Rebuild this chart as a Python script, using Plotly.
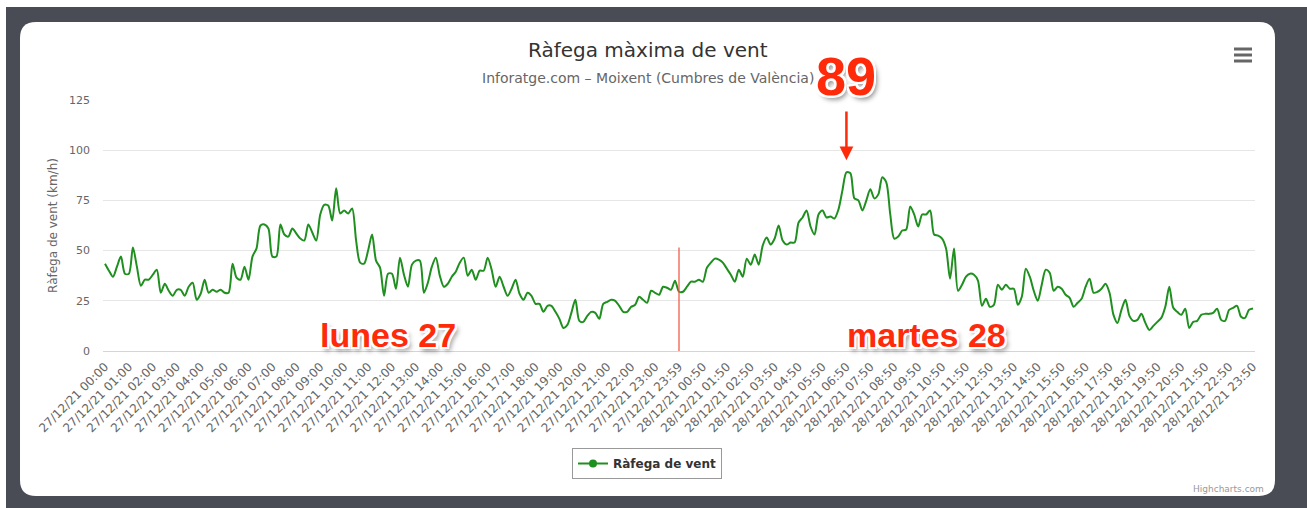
import plotly.graph_objects as go

# ---------------- data ----------------
day27_times = [f"27/12/21 {h:02d}:{m:02d}" for h in range(24) for m in range(0, 60, 10)] + ["27/12/21 23:59"]
day28_times = [f"28/12/21 {h:02d}:{m:02d}" for h in range(24) for m in range(0, 60, 10)]
categories = day27_times + day28_times

gusts_27 = [
    43.5, 40, 37, 42, 47, 38.5, 38.5, 51.5, 42, 32.5,
    35.5, 35.5, 38, 40.5, 29, 33.5, 30, 27.5, 30.5, 30.5,
    27.5, 32, 34, 25.5, 28.5, 35.5, 29, 30.5, 29.5, 30.5,
    29, 29, 43.5, 36.5, 35.5, 42, 35.5, 47, 51, 62.5,
    63, 61, 47, 47, 63, 58, 57, 61, 58.5, 56,
    55, 63, 59, 55, 68, 72.8, 72.5, 65, 81, 68.5,
    70, 68.5, 71, 55, 44, 43.5, 50, 58, 45, 41.5,
    27.5, 38.5, 38.5, 31, 46.5, 38, 32, 43, 45, 45,
    29, 34, 42, 46.5, 37.5, 32, 33.5, 37, 39.5, 44,
    46.5, 37.5, 40.5, 35.5, 40, 40, 46.5, 40.5, 32, 37,
    32, 27.5, 31, 35.5, 28.5, 25.5, 29, 27.5, 23.5, 23.5,
    19.5, 22.5, 22.5, 19.5, 16, 11.5, 13, 19, 25.5, 15,
    14.5, 17.5, 19.5, 19, 16, 23.5, 24.5, 25.5, 25, 22.5,
    19.5, 19.5, 22, 23, 27, 25.5, 24, 30, 29, 28,
    32, 31.5, 30.5, 35, 29.5,
]
gusts_28 = [
    29.5, 32, 34.5, 34.5, 35.5, 34.5, 41.5, 44, 46, 45.5,
    44, 41, 38, 34.5, 40.5, 37, 46, 43, 48, 43,
    52.5, 56.5, 53, 56, 62.5, 55, 53, 54, 54, 64,
    66.5, 70, 62, 58, 68, 70, 66.5, 67, 66, 70.5,
    80, 89, 88.5, 76, 75, 70, 75, 80.5, 76, 78,
    86.5, 84, 68, 56, 57, 60, 60.5, 72, 68, 62,
    68, 68, 70, 58, 57.5, 56, 51, 36, 51, 30,
    33, 37, 38.5, 38, 35, 22.5, 26, 22, 23, 33,
    30.5, 33, 31, 31, 23, 27, 41, 37, 30, 25,
    33, 40.5, 39, 30, 32, 31, 28, 26.5, 22, 24,
    26, 32, 36, 29, 29.5, 31, 33.5, 29, 18, 14,
    20.5, 25.5, 17.5, 15, 15.5, 18.5, 14, 10.5, 12.5, 14.5,
    16.5, 22, 32, 21.5, 19.5, 18, 21, 11.5, 14.5, 15,
    18, 18.5, 18.5, 19, 21, 15.5, 15, 20.5, 21.5, 22.5,
    17, 16.5, 20.5, 21.2,
]
gusts = gusts_27 + gusts_28

tick_labels = categories[::6]
y_ticks = [0, 25, 50, 75, 100, 125]

divider_label = "27/12/21 23:59"
peak_label = "28/12/21 06:50"
day_labels = ["lunes 27", "martes 28"]
day_label_pos = ["27/12/21 11:50", "28/12/21 10:10"]
peak_text = "89"

title_text = "Ràfega màxima de vent"
subtitle_text = "Inforatge.com – Moixent (Cumbres de València)"
y_title = "Ràfega de vent (km/h)"
series_name = "Ràfega de vent"

# ---------------- layout helpers ----------------
W, H = 1307, 508
ML, MR, MT, MB = 103, 52, 100, 157
PW, PH = W - ML - MR, H - MT - MB


def px(xp):
    return (xp - ML) / PW


def py(yp):
    return (H - MB - yp) / PH


def rounded_rect(x0, y0, x1, y1, r):
    rx, ry = r / PW, r / PH
    X0, X1 = px(x0), px(x1)
    Y0, Y1 = py(y0), py(y1)  # Y0 top, Y1 bottom
    return (f"M {X0+rx},{Y0} L {X1-rx},{Y0} Q {X1},{Y0} {X1},{Y0-ry} "
            f"L {X1},{Y1+ry} Q {X1},{Y1} {X1-rx},{Y1} L {X0+rx},{Y1} "
            f"Q {X0},{Y1} {X0},{Y1+ry} L {X0},{Y0-ry} Q {X0},{Y0} {X0+rx},{Y0} Z")


GREEN = "#1f8f1f"
RED = "#fe2a0a"
FONT = "DejaVu Sans"
SHADOW = ("2px 2px 0 #fff, -2px -2px 0 #fff, 2px -2px 0 #fff, -2px 2px 0 #fff, "
          "0 2px 0 #fff, 2px 0 0 #fff, -2px 0 0 #fff, 0 -2px 0 #fff, "
          "3px 4px 5px rgba(0,0,0,0.45)")

fig = go.Figure()
fig.add_trace(go.Scatter(
    x=categories, y=gusts, mode="lines", name=series_name,
    line=dict(color=GREEN, width=2, shape="spline", smoothing=0.8),
    showlegend=False, hoverinfo="x+y",
))
fig.add_trace(go.Scatter(
    x=[None], y=[None], mode="lines+markers", name=series_name,
    line=dict(color=GREEN, width=2), marker=dict(color=GREEN, size=8),
    showlegend=True,
))

shapes = [
    dict(type="rect", xref="paper", yref="paper", x0=px(6), x1=px(W + 5), y0=py(7), y1=py(H + 5),
         fillcolor="#494c55", line=dict(width=0), layer="below"),
    dict(type="path", xref="paper", yref="paper", path=rounded_rect(20, 22, 1275, 496, 16),
         fillcolor="#ffffff", line=dict(width=0), layer="below"),
    dict(type="line", xref="x", yref="y", x0=divider_label, x1=divider_label, y0=0, y1=51.5,
         line=dict(color="rgba(240,90,70,0.85)", width=1.5)),
]
for yl in (49, 55, 61):
    shapes.append(dict(type="line", xref="paper", yref="paper", x0=px(1234), x1=px(1252),
                       y0=py(yl), y1=py(yl), line=dict(color="#666666", width=3)))

annotations = [
    dict(text=title_text, xref="paper", yref="paper", x=px(648), y=py(50), showarrow=False,
         font=dict(family=FONT, size=20, color="#333333"), xanchor="center", yanchor="middle"),
    dict(text=subtitle_text, xref="paper", yref="paper", x=px(648), y=py(78), showarrow=False,
         font=dict(family=FONT, size=14, color="#666666"), xanchor="center", yanchor="middle"),
    dict(text="Highcharts.com", xref="paper", yref="paper", x=px(1266), y=py(489), showarrow=False,
         font=dict(family=FONT, size=9, color="#999999"), xanchor="right", yanchor="middle"),
]
for lab, pos in zip(day_labels, day_label_pos):
    annotations.append(dict(text=lab, x=pos, y=8, xref="x", yref="y", showarrow=False,
                            xanchor="center", yanchor="middle",
                            font=dict(family="Liberation Sans", size=34, color=RED,
                                      weight="bold", shadow=SHADOW)))
annotations.append(dict(text=peak_text, x=peak_label, y=py(76), xref="x", yref="paper", showarrow=False,
                        xanchor="center", yanchor="middle",
                        font=dict(family="Liberation Sans", size=54, color=RED,
                                  weight="bold", shadow=SHADOW)))
annotations.append(dict(text="", x=peak_label, y=95, xref="x", yref="y",
                        ax=peak_label, ay=120, axref="x", ayref="y",
                        showarrow=True, arrowhead=2, arrowsize=1.1, arrowwidth=2.5, arrowcolor=RED))

fig.update_layout(
    width=W, height=H,
    margin=dict(l=ML, r=MR, t=MT, b=MB, autoexpand=False),
    paper_bgcolor="#ffffff", plot_bgcolor="#ffffff",
    font=dict(family=FONT, color="#666666"),
    shapes=shapes, annotations=annotations,
    legend=dict(orientation="h", x=px(647), xanchor="center", y=py(448), yanchor="top",
                bordercolor="#999999", borderwidth=1, bgcolor="#ffffff",
                font=dict(family=FONT, size=12, color="#333333", weight="bold")),
    xaxis=dict(type="category", categoryorder="array", categoryarray=categories,
               range=[-0.5, len(categories) - 0.5],
               tickmode="array", tickvals=tick_labels, ticktext=tick_labels,
               tickangle=-45, tickfont=dict(family=FONT, size=12, color="#666666"),
               showgrid=False, showline=True, linecolor="#ccd6eb", linewidth=1,
               ticks="", ticklabelstandoff=3, automargin=False, fixedrange=True),
    yaxis=dict(range=[0, 125], tickvals=y_ticks, gridcolor="#e6e6e6", gridwidth=1,
               zeroline=False, showline=False, ticks="",
               tickfont=dict(family=FONT, size=11, color="#666666"),
               ticklabelstandoff=12,
               title=dict(text=y_title, font=dict(family=FONT, size=12, color="#666666"), standoff=8),
               automargin=False, fixedrange=True),
    hovermode="x",
)

fig.write_html("out.html", config={"displayModeBar": False},
               post_script="document.body.style.margin='0';document.body.style.overflow='hidden';")
